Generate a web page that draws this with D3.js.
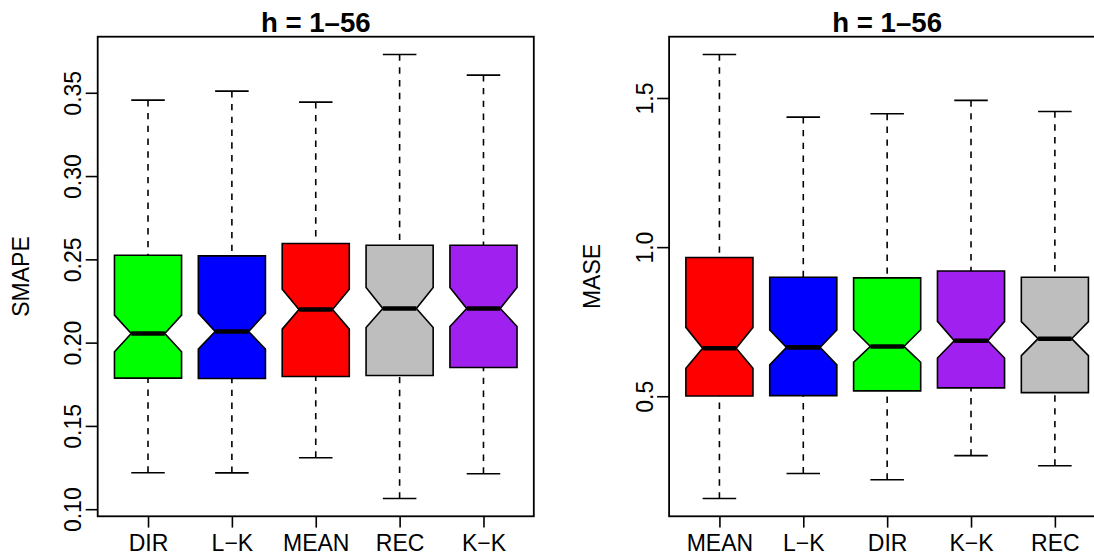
<!DOCTYPE html>
<html>
<head>
<meta charset="utf-8">
<script src="https://cdn.jsdelivr.net/npm/d3@7"></script>
<style>
  html, body { margin: 0; padding: 0; background: #ffffff; overflow: hidden; }
  svg { display: block; }
  text { font-family: "Liberation Sans", Arial, Helvetica, sans-serif; fill: #000; }
</style>
</head>
<body>
<svg id="chart" width="1094" height="558"></svg>
<script>
// ---- SMAPE panel (horizon 1–56) ----
const smapeMethods = ["DIR", "L\u2212K", "MEAN", "REC", "K\u2212K"];
const smapeColors  = ["#00FF00", "#0000FF", "#FF0000", "#BEBEBE", "#A020F0"];
const smapeLower   = [0.1219, 0.1218, 0.1309, 0.1064, 0.1213];
const smapeQ1      = [0.1787, 0.1785, 0.1797, 0.1803, 0.1851];
const smapeMedian  = [0.2055, 0.2067, 0.2199, 0.2205, 0.2205];
const smapeQ3      = [0.2525, 0.2521, 0.2595, 0.2585, 0.2585];
const smapeUpper   = [0.3456, 0.3510, 0.3444, 0.3730, 0.3606];
const smapeNotchLo = [0.1945, 0.1961, 0.2081, 0.2091, 0.2097];
const smapeNotchHi = [0.2165, 0.2177, 0.2321, 0.2331, 0.2331];
const smapeTicks   = [0.10, 0.15, 0.20, 0.25, 0.30, 0.35];

// ---- MASE panel (horizon 1–56) ----
const maseMethods = ["MEAN", "L\u2212K", "DIR", "K\u2212K", "REC"];
const maseColors  = ["#FF0000", "#0000FF", "#00FF00", "#A020F0", "#BEBEBE"];
const maseLower   = [0.157, 0.241, 0.220, 0.301, 0.267];
const maseQ1      = [0.501, 0.502, 0.518, 0.528, 0.512];
const maseMedian  = [0.661, 0.664, 0.667, 0.686, 0.693];
const maseQ3      = [0.965, 0.899, 0.897, 0.920, 0.899];
const maseUpper   = [1.646, 1.436, 1.447, 1.492, 1.455];
const maseNotchLo = [0.594, 0.605, 0.614, 0.628, 0.636];
const maseNotchHi = [0.731, 0.722, 0.723, 0.751, 0.750];
const maseTicks   = [0.5, 1.0, 1.5];

const titleText = "h = 1\u201356";

const svg = d3.select("#chart");

// Plot regions (the second panel runs past the right edge of the page)
const panelTop = 36.7, panelBottom = 516.3, panelWidth = 436.1;
const panels = [
  { left: 97.7,  ylab: "SMAPE", fmt: d3.format(".2f"), ticks: smapeTicks,
    methods: smapeMethods, colors: smapeColors, lower: smapeLower, q1: smapeQ1,
    median: smapeMedian, q3: smapeQ3, upper: smapeUpper, nlo: smapeNotchLo, nhi: smapeNotchHi },
  { left: 669.1, ylab: "MASE", fmt: d3.format(".1f"), ticks: maseTicks,
    methods: maseMethods, colors: maseColors, lower: maseLower, q1: maseQ1,
    median: maseMedian, q3: maseQ3, upper: maseUpper, nlo: maseNotchLo, nhi: maseNotchHi }
];

const lw = 1.6;
const fontSize = 23;

panels.forEach(p => {
  const n = p.methods.length;
  const right = p.left + panelWidth;
  const cx = (p.left + right) / 2;

  // x: positions 1..n, limits 0.5..n+0.5 padded by 4%
  const xPad = 0.04 * n;
  const x = d3.scaleLinear().domain([0.5 - xPad / 2 * 1, n + 0.5 + xPad / 2 * 1]).range([p.left, right]);
  // y: data range padded by 4% on each side
  const lo = d3.min(p.lower), hi = d3.max(p.upper);
  const pad = (hi - lo) * 0.04;
  const y = d3.scaleLinear().domain([lo - pad, hi + pad]).range([panelBottom, panelTop]);

  const g = svg.append("g");
  const halfW = (x(1.4) - x(1)); // box half width (boxwex 0.8)

  const boxes = p.methods.map((m, i) => ({
    m, i, pos: i + 1, color: p.colors[i],
    lower: p.lower[i], q1: p.q1[i], med: p.median[i], q3: p.q3[i],
    upper: p.upper[i], nlo: p.nlo[i], nhi: p.nhi[i]
  }));

  const bg = g.selectAll("g.box").data(boxes).join("g").attr("class", "box");

  // dashed whiskers, drawn from the whisker end towards the box
  bg.append("line")
    .attr("x1", d => x(d.pos)).attr("x2", d => x(d.pos))
    .attr("y1", d => y(d.lower)).attr("y2", d => y(d.q1))
    .attr("stroke", "#000").attr("stroke-width", lw).attr("stroke-dasharray", "6.4,6.4");
  bg.append("line")
    .attr("x1", d => x(d.pos)).attr("x2", d => x(d.pos))
    .attr("y1", d => y(d.upper)).attr("y2", d => y(d.q3))
    .attr("stroke", "#000").attr("stroke-width", lw).attr("stroke-dasharray", "6.4,6.4");

  // staples
  ["lower", "upper"].forEach(k => {
    bg.append("line")
      .attr("x1", d => x(d.pos) - halfW / 2).attr("x2", d => x(d.pos) + halfW / 2)
      .attr("y1", d => y(d[k])).attr("y2", d => y(d[k]))
      .attr("stroke", "#000").attr("stroke-width", lw);
  });

  // notched boxes
  bg.append("path")
    .attr("d", d => {
      const c = x(d.pos);
      const pts = [
        [c - halfW, y(d.q1)], [c - halfW, y(d.nlo)], [c - halfW / 2, y(d.med)],
        [c - halfW, y(d.nhi)], [c - halfW, y(d.q3)], [c + halfW, y(d.q3)],
        [c + halfW, y(d.nhi)], [c + halfW / 2, y(d.med)], [c + halfW, y(d.nlo)],
        [c + halfW, y(d.q1)]
      ];
      return d3.line()(pts) + "Z";
    })
    .attr("fill", d => d.color)
    .attr("stroke", "#000").attr("stroke-width", lw).attr("stroke-linejoin", "miter");

  // medians
  bg.append("line")
    .attr("x1", d => x(d.pos) - halfW / 2).attr("x2", d => x(d.pos) + halfW / 2)
    .attr("y1", d => y(d.med)).attr("y2", d => y(d.med))
    .attr("stroke", "#000").attr("stroke-width", 4.6);

  // frame
  g.append("rect")
    .attr("x", p.left).attr("y", panelTop)
    .attr("width", panelWidth).attr("height", panelBottom - panelTop)
    .attr("fill", "none").attr("stroke", "#000").attr("stroke-width", 1.8);

  // y axis
  const ya = g.append("g").attr("transform", `translate(${p.left},0)`)
    .call(d3.axisLeft(y).tickValues(p.ticks).tickFormat(p.fmt).tickSize(12).tickSizeOuter(0));
  ya.select(".domain").remove();
  ya.selectAll(".tick line").attr("stroke", "#000").attr("stroke-width", 1.6);
  ya.selectAll(".tick text")
    .attr("transform", "rotate(-90)")
    .attr("x", 0).attr("y", -16.5).attr("dy", 0)
    .attr("text-anchor", "middle")
    .style("font-size", fontSize + "px")
    .style("font-family", "'Liberation Sans', Arial, sans-serif")
    .attr("fill", "#000");

  // x axis
  const xa = g.append("g").attr("transform", `translate(0,${panelBottom})`)
    .call(d3.axisBottom(x).tickValues(d3.range(1, n + 1))
      .tickFormat(v => p.methods[v - 1]).tickSize(11.3).tickSizeOuter(0));
  xa.select(".domain").remove();
  xa.selectAll(".tick line").attr("stroke", "#000").attr("stroke-width", 1.6);
  xa.selectAll(".tick text")
    .attr("y", 35.2).attr("dy", 0)
    .style("font-size", fontSize + "px")
    .style("font-family", "'Liberation Sans', Arial, sans-serif")
    .attr("fill", "#000");

  // y label
  g.append("text")
    .attr("transform", `translate(${p.left - 68.8},${(panelTop + panelBottom) / 2}) rotate(-90)`)
    .attr("text-anchor", "middle")
    .style("font-size", fontSize + "px")
    .text(p.ylab);

  // title
  g.append("text")
    .attr("x", cx).attr("y", 31.7)
    .attr("text-anchor", "middle")
    .style("font-size", "27.6px").style("font-weight", "bold")
    .text(titleText);
});
</script>
</body>
</html>
